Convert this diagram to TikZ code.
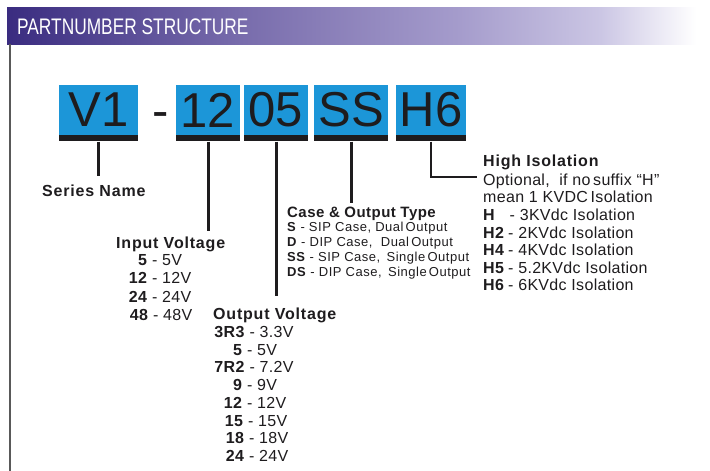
\documentclass[tikz,border=0pt]{standalone}
\usepackage{fontspec}
\setmainfont{Liberation Sans}
\newfontfamily\lsf[LetterSpace=5]{Liberation Sans}
\newfontfamily\lsg[LetterSpace=2]{Liberation Sans}
\newfontfamily\lsc[LetterSpace=4]{Liberation Sans}
\newfontfamily\lsct[LetterSpace=3]{Liberation Sans}
\definecolor{blu}{RGB}{28,150,216}
\definecolor{ink}{RGB}{30,28,30}
\definecolor{hca}{RGB}{58,44,128}
\definecolor{hcb}{RGB}{120,108,172}
\definecolor{hcc}{RGB}{165,156,204}
\definecolor{hcd}{RGB}{203,198,228}
\pgfdeclarehorizontalshading{hdrshade}{100bp}{color(0bp)=(hca); color(25bp)=(hca); color(41.6bp)=(hcb); color(57.2bp)=(hcc); color(67.2bp)=(hcd); color(74bp)=(white); color(100bp)=(white)}
\begin{document}
\begin{tikzpicture}[x=1bp,y=-1bp,
  partbox/.style={fill=blu, minimum height=50bp, inner sep=0, text=ink,
    font=\fontsize{49bp}{49bp}\selectfont},
  partbar/.style={fill=ink, minimum height=6bp, inner sep=0, anchor=north},
  conn/.style={line width=3bp, draw=ink},
  ttl/.style={anchor=base west, inner sep=0, text=ink, font=\fontsize{16bp}{18bp}\lsf\bfseries},
  cttl/.style={anchor=base west, inner sep=0, text=ink, font=\fontsize{15bp}{17bp}\lsct\bfseries},
  ent/.style={anchor=base, inner sep=0, text=ink, font=\fontsize{16bp}{18bp}\lsg},
  lent/.style={anchor=base west, inner sep=0, text=ink, font=\fontsize{16bp}{18bp}\lsg},
  cent/.style={anchor=base west, inner sep=0, text=ink, font=\fontsize{13bp}{15bp}\lsc}]
\useasboundingbox (0,0) rectangle (710,471);
% header
\shade[shading=hdrshade] (7,8) rectangle (710,44.5);
\node[anchor=base west, inner sep=0, text=white, font=\fontsize{22.5bp}{22bp}\selectfont, xscale=0.77] (hdr) at (17,34.5) {PARTNUMBER STRUCTURE};
\draw[draw=black!65, line width=1.5bp] (10,44.5) -- (10,471);
% part boxes
\node[partbox, minimum width=79bp] (v1) at (98.5,110) {V1\hspace{10bp}};
\node[anchor=base, inner sep=0, text=ink, font=\fontsize{49bp}{49bp}\selectfont] (dash) at (160.5,128) {-};
\node[partbox, minimum width=64bp] (p12) at (208,110) {12};
\node[partbox, minimum width=64bp] (p05) at (276,110) {05};
\node[partbox, minimum width=74bp] (pss) at (351,110) {SS};
\node[partbox, minimum width=70bp] (ph6) at (431,110) {H6};
\node[partbar, minimum width=79bp] (v1b) at (v1.south) {};
\node[partbar, minimum width=64bp] (p12b) at (p12.south) {};
\node[partbar, minimum width=64bp] (p05b) at (p05.south) {};
\node[partbar, minimum width=74bp] (pssb) at (pss.south) {};
\node[partbar, minimum width=70bp] (ph6b) at (ph6.south) {};
% Series name
\node[ttl] (sn) at (42,197) {Series Name};
% Input voltage
\node[ttl] (iv) at (116,248.3) {Input Voltage};
\node[ent] (iv1) at (160,265.5) {\textbf{5} - 5V};
\node[ent] (iv2) at (160,283.8) {\textbf{12} - 12V};
\node[ent] (iv3) at (160,302.1) {\textbf{24} - 24V};
\node[ent] (iv4) at (161,320.4) {\textbf{48} - 48V};
% Output voltage
\node[ttl] (ov) at (213,319.3) {Output Voltage};
\node[ent] (ov1) at (254,337.5) {\textbf{3R3} - 3.3V};
\node[ent] (ov2) at (255,355.2) {\textbf{5} - 5V};
\node[ent] (ov3) at (254,372.9) {\textbf{7R2} - 7.2V};
\node[ent] (ov4) at (255,390.6) {\textbf{9} - 9V};
\node[ent] (ov5) at (255,408.3) {\textbf{12} - 12V};
\node[ent] (ov6) at (256,426.0) {\textbf{15} - 15V};
\node[ent] (ov7) at (257,443.7) {\textbf{18} - 18V};
\node[ent] (ov8) at (257,461.4) {\textbf{24} - 24V};
% Case & output type
\node[cttl] (ct) at (287,218) {Case \& Output Type};
\node[cent] (ct1) at (287,231.5) {\textbf{S} - SIP Case, Dual\,Output};
\node[cent] (ct2) at (287,246.5) {\textbf{D} - DIP Case, \ Dual\,Output};
\node[cent] (ct3) at (287,261.5) {\textbf{SS} - SIP Case, \,Single\,Output};
\node[cent] (ct4) at (287,276.5) {\textbf{DS} - DIP Case, \,Single\,Output};
% High isolation
\node[ttl] (hi) at (483,167) {High Isolation};
\node[lent] (hi1) at (483,185.5) {Optional,\ \ if no\,suffix “H”};
\node[lent] (hi2) at (483,203) {mean 1 KVDC\,Isolation};
\node[lent, font=\fontsize{16bp}{18bp}\lsg\bfseries] (hk1) at (483,220.5) {H};
\node[lent] (hv1) at (509.5,220.5) {- 3KVdc Isolation};
\node[lent, font=\fontsize{16bp}{18bp}\lsg\bfseries] (hk2) at (483,238.1) {H2};
\node[lent] (hv2) at (508,238.1) {- 2KVdc Isolation};
\node[lent, font=\fontsize{16bp}{18bp}\lsg\bfseries] (hk3) at (483,255.7) {H4};
\node[lent] (hv3) at (508,255.7) {- 4KVdc Isolation};
\node[lent, font=\fontsize{16bp}{18bp}\lsg\bfseries] (hk4) at (483,273.3) {H5};
\node[lent] (hv4) at (508,273.3) {- 5.2KVdc Isolation};
\node[lent, font=\fontsize{16bp}{18bp}\lsg\bfseries] (hk5) at (483,290.9) {H6};
\node[lent] (hv5) at (508,290.9) {- 6KVdc Isolation};
% connectors
\draw[conn, shorten >=9.5bp] (v1b.south) -- (v1b.south |- sn.north);
\draw[conn, shorten >=5.5bp] (p12b.south) -- (p12b.south |- iv.north);
\draw[conn, shorten >=12bp] (p05b.south) -- (p05b.south |- ov.north);
\draw[conn, shorten >=4.5bp] (pssb.south) -- (pssb.south |- ct.north);
\coordinate (hjoin) at ([shift={(-6,6)}]hi.south west);
\draw[line width=2bp, draw=ink] (ph6b.south) |- (hjoin);
\end{tikzpicture}
\end{document}
